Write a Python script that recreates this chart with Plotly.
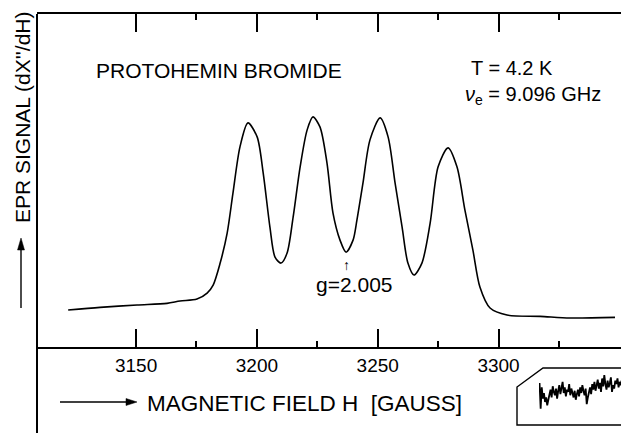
import plotly.graph_objects as go

# ---- data ----
field_gauss = [3121.9, 3135.1, 3150.4, 3162.8, 3168.2, 3175.2, 3179.4, 3181.9, 3184.8, 3187.7,
               3190.1, 3193.0, 3196.3, 3200.1, 3202.6, 3205.4, 3207.5, 3210.0, 3212.5, 3215.0,
               3217.9, 3220.8, 3223.2, 3226.1, 3229.0, 3231.5, 3234.4, 3236.9, 3239.8, 3241.4,
               3243.9, 3246.8, 3251.0, 3254.3, 3257.2, 3260.1, 3262.5, 3265.0, 3268.3, 3271.7,
               3275.0, 3279.1, 3282.8, 3286.1, 3289.4, 3292.3, 3296.5, 3303.5, 3317.2, 3329.6, 3348.2]
epr_signal = [11.1, 11.9, 12.6, 13.1, 13.8, 14.4, 16.2, 18.6, 25.2, 34.2,
              46.2, 60.1, 67.3, 63.1, 52.3, 36.0, 27.0, 25.2, 28.2, 39.0,
              54.1, 65.2, 69.1, 66.1, 55.3, 40.2, 32.1, 28.5, 32.1, 38.1,
              49.2, 62.2, 68.8, 63.1, 49.2, 36.0, 25.2, 21.6, 25.2, 37.2,
              54.1, 59.8, 54.1, 41.1, 29.1, 18.0, 11.7, 9.6, 9.2, 8.7, 8.9]

tick_values = [3150, 3200, 3250, 3300]
tick_labels = ["3150", "3200", "3250", "3300"]
minor_tick_values = [3175, 3225, 3275, 3325]

inset_signal = [26, 3, 22, 12, 17, 9, 13, 6, 11, 16, 20, 13, 23, 18, 15, 21, 12, 19, 24, 16,
                21, 27, 17, 22, 14, 20, 18, 25, 15, 21, 17, 13, 19, 11, 16, 20, 14, 22, 17, 24,
                19, 15, 21, 7, 13, 18, 22, 16, 25, 20, 27, 19, 24, 29, 21, 26, 18, 30, 23, 33,
                25, 20, 28, 22, 26, 31, 18, 24, 21, 28, 25, 30, 22, 27, 24, 29, 26, 23, 30, 25,
                28, 24]
inset_index = list(range(len(inset_signal)))

# The page body has an 8 px margin, so the figure is drawn 8 px smaller
OFF = 8
W, H = 629 - OFF, 433 - OFF
ML, MT = 37 - OFF, 14 - OFF
PW, PH = W - ML, H - MT


def px(x):  # screen x -> paper
    return (x - OFF - ML) / PW


def py(y):  # screen y -> paper
    return (H - (y - OFF)) / PH


FONT = "Liberation Sans"

fig = go.Figure()
fig.add_trace(go.Scatter(x=field_gauss, y=epr_signal, mode="lines",
                         line=dict(color="black", width=1.6, shape="spline", smoothing=0.8),
                         hoverinfo="skip", showlegend=False))
fig.add_trace(go.Scatter(x=inset_index, y=inset_signal, mode="lines",
                         line=dict(color="black", width=1.8),
                         xaxis="x2", yaxis="y2", hoverinfo="skip", showlegend=False))

fig.update_layout(
    width=W, height=H,
    margin=dict(l=ML, r=0, t=MT, b=0),
    paper_bgcolor="white", plot_bgcolor="white",
    font=dict(family=FONT, color="black"),
    xaxis=dict(range=[3109, 3354], showgrid=False, zeroline=False,
               showline=True, linecolor="black", linewidth=2, mirror="ticks",
               ticks="inside", ticklen=18, tickwidth=1.6, tickcolor="black",
               tickvals=tick_values, ticktext=tick_labels,
               tickfont=dict(family=FONT, size=19, color="black"),
               minor=dict(tickvals=minor_tick_values, ticks="inside", ticklen=6,
                          tickwidth=1.6, tickcolor="black", showgrid=False),
               anchor="y"),
    yaxis=dict(range=[0, 100], domain=[py(347), 1], showgrid=False, zeroline=False,
               showline=False, showticklabels=False, ticks="", anchor="x"),
    xaxis2=dict(domain=[px(539), 1], range=[-0.5, len(inset_signal) - 0.5],
                visible=False, anchor="y2"),
    yaxis2=dict(domain=[py(412), py(374)], range=[0, 34], visible=False, anchor="x2"),
)

# left vertical line extending below the field axis
fig.add_shape(type="line", xref="paper", yref="paper", x0=0, x1=0, y0=0, y1=1,
              line=dict(color="black", width=2))
# inset frame
path = (f"M {px(629)},{py(368)} L {px(543)},{py(368)} L {px(517)},{py(387)} "
        f"L {px(517)},{py(425)} L {px(629)},{py(425)}")
fig.add_shape(type="path", xref="paper", yref="paper", path=path,
              line=dict(color="black", width=1.4))

# arrows drawn as shapes: shaft + filled head
fig.add_shape(type="line", xref="paper", yref="paper", x0=px(60), x1=px(128),
              y0=py(402), y1=py(402), line=dict(color="black", width=1.4))
fig.add_shape(type="path", xref="paper", yref="paper",
              path=f"M {px(137)},{py(402)} L {px(126)},{py(398.5)} L {px(126)},{py(405.5)} Z",
              fillcolor="black", line=dict(color="black", width=0.5))
fig.add_shape(type="line", xref="paper", yref="paper", x0=px(21), x1=px(21),
              y0=py(308), y1=py(248), line=dict(color="black", width=1.4))
fig.add_shape(type="path", xref="paper", yref="paper",
              path=f"M {px(21)},{py(238)} L {px(17.5)},{py(250)} L {px(24.5)},{py(250)} Z",
              fillcolor="black", line=dict(color="black", width=0.5))


def note(text, x, y, size, xanchor="left", **kw):
    fig.add_annotation(text=text, xref="paper", yref="paper", x=px(x), y=py(y),
                       xanchor=xanchor, yanchor="middle", showarrow=False,
                       font=dict(family=FONT, size=size, color="black"), **kw)


note("PROTOHEMIN BROMIDE", 94, 70, 21)
note("T = 4.2 K", 469, 68, 20)
note("<i>ν</i><sub>e</sub> = 9.096 GHz", 463, 96, 20)
note("g=2.005", 314, 284, 21)
note("↑", 346, 265, 14, xanchor="center")
note("MAGNETIC FIELD H  [GAUSS]", 145, 403, 22.5)
note("EPR SIGNAL (dX''/dH)", 22, 118, 21, xanchor="center", textangle=-90)

fig.write_html("out.html")
